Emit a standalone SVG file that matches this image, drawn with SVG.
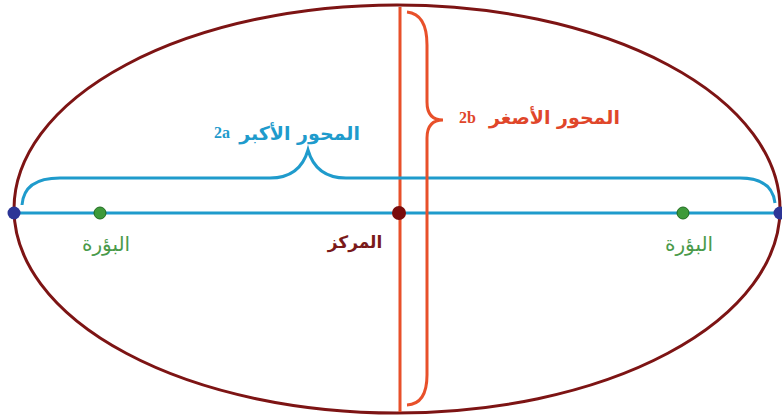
<svg xmlns="http://www.w3.org/2000/svg" width="782" height="419" viewBox="0 0 782 419">
<style>
.ar{font-family:"DejaVu Sans","Noto Sans",sans-serif;font-weight:bold}
.lbl{font-family:"DejaVu Sans","Noto Sans",sans-serif;font-weight:normal;font-size:20px;fill:#4a9a4a}
.num{font-family:"Liberation Serif",serif;font-weight:bold;font-size:16px}
.blue{stroke:#1f9bcc;fill:none;stroke-width:3}
.orange{stroke:#e8502a;fill:none;stroke-width:3}
</style>
<rect width="782" height="419" fill="#fff"/>
<g id="ellipse"><ellipse cx="397" cy="209" rx="383" ry="204" fill="none" stroke="#7d1414" stroke-width="3"/></g>
<g id="connectors">
<line class="blue" x1="14" y1="213" x2="780" y2="213"/>
<line class="orange" x1="400" y1="7" x2="400" y2="412"/>
<path class="blue" d="M22,205 Q24,178 60,178 L270,178 Q300,178 308,150 Q316,178 346,178 L740,178 Q772,178 775,203"/>
<path class="orange" d="M407,12 Q427,14 427,45 L427,102 Q427,120 443,120 Q427,120 427,138 L427,375 Q427,404 407,405"/>
</g>
<g id="vertex-left"><circle cx="14" cy="213" r="6.5" fill="#2c3596"/></g>
<g id="vertex-right"><circle cx="780" cy="213" r="6.5" fill="#2c3596"/></g>
<g id="focus-left"><circle cx="100" cy="213" r="6" fill="#3e9a3a" stroke="#1e6a1e" stroke-width="1"/>
<text class="lbl" x="106" y="251" text-anchor="middle">البؤرة</text></g>
<g id="focus-right"><circle cx="683" cy="213" r="6" fill="#3e9a3a" stroke="#1e6a1e" stroke-width="1"/>
<text class="lbl" x="689" y="251" text-anchor="middle">البؤرة</text></g>
<g id="center"><circle cx="399" cy="213" r="7" fill="#7a0c0c"/>
<text class="ar" x="355" y="248" font-size="17" fill="#7a1a1a" text-anchor="middle">المركز</text></g>
<g id="major-label">
<text class="ar" x="360" y="140" font-size="19" fill="#1f9bcc" text-anchor="end">المحور الأكبر</text>
<text class="num" x="214" y="138" fill="#1f9bcc">2a</text></g>
<g id="minor-label">
<text class="ar" x="620" y="124" font-size="19" fill="#e0462a" text-anchor="end">المحور الأصغر</text>
<text class="num" x="459" y="123" fill="#e0462a">2b</text></g>
</svg>
